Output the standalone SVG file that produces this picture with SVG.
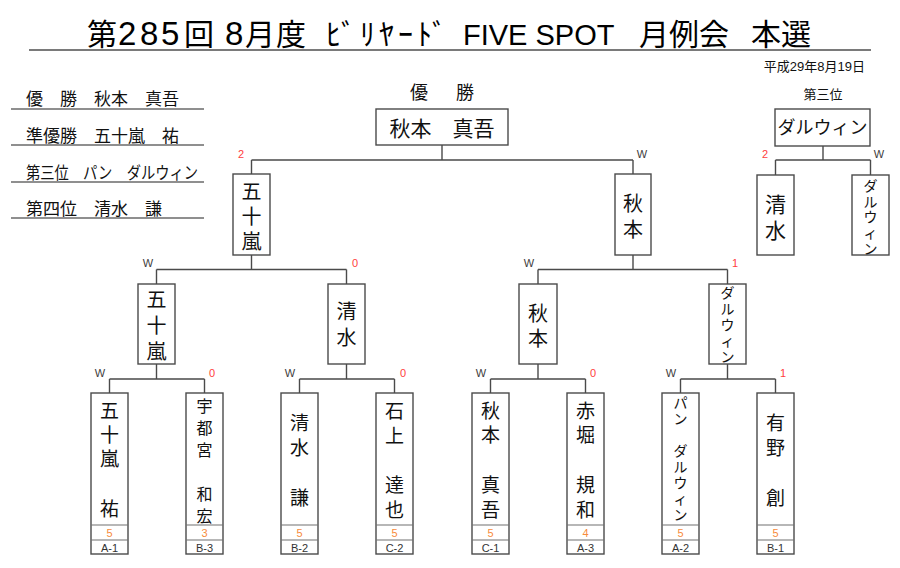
<svg xmlns="http://www.w3.org/2000/svg" width="900" height="568" viewBox="0 0 900 568">
<style>
.ln{stroke:#4a4a4a;stroke-width:1.4;fill:none}
.bx{fill:#fff;stroke:#4a4a4a;stroke-width:1.4}
.sep{stroke:#707070;stroke-width:1.2}
.ul{stroke:#7a7a7a;stroke-width:2.2}
.ll{stroke:#6a6a6a;stroke-width:1.4}
.jp{font-family:"Noto Sans CJK JP",sans-serif;fill:#111}
.ttl{font-family:"Liberation Sans","Noto Sans CJK JP",sans-serif;fill:#000;font-size:30px}
.nm{font-family:"Liberation Sans","Noto Sans CJK JP",sans-serif;fill:#111;text-anchor:middle;dominant-baseline:central}
.lb{font-family:"Liberation Sans",sans-serif;font-size:11px;text-anchor:middle;fill:#3c3c3c}
.red{fill:#ff4040}
.sc{font-family:"Liberation Sans",sans-serif;font-size:11px;text-anchor:middle;fill:#f78b3c}
.cd{font-family:"Liberation Sans",sans-serif;font-size:11px;text-anchor:middle;fill:#333}
</style>
<rect width="900" height="568" fill="#fff"/>

<g id="title">
<text class="ttl" y="45"><tspan x="87">第</tspan><tspan x="118 140 161" font-size="33">285</tspan><tspan x="184">回 </tspan><tspan x="225" font-size="33">8</tspan><tspan x="245 276">月度 </tspan><tspan x="326" letter-spacing="4" style="font-family:'Noto Sans CJK JP',sans-serif">ﾋﾞﾘﾔｰﾄﾞ </tspan><tspan x="463" font-size="29">FIVE SPOT </tspan><tspan x="639">月例会 </tspan><tspan x="751">本選</tspan></text>
<line class="ul" x1="29" y1="50" x2="871" y2="50"/>
<text class="jp" x="865" y="71" font-size="13" text-anchor="end" style="font-family:'Liberation Sans','Noto Sans CJK JP',sans-serif">平成29年8月19日</text>
</g>

<g id="results">
<text class="jp" x="26" y="105" font-size="17">優　勝　秋本　真吾</text>
<line class="ll" x1="11" y1="109" x2="204" y2="109"/>
<text class="jp" x="26" y="142" font-size="17">準優勝　五十嵐　祐</text>
<line class="ll" x1="11" y1="145" x2="204" y2="145"/>
<text class="jp" x="26" y="179" font-size="17" textLength="172" lengthAdjust="spacingAndGlyphs">第三位　パン　ダルウィン</text>
<line class="ll" x1="11" y1="182" x2="204" y2="182"/>
<text class="jp" x="26" y="215" font-size="17">第四位　清水　謙</text>
<line class="ll" x1="11" y1="218" x2="204" y2="218"/>
</g>

<g id="connectors">
<path class="ln" d="M442 145V160M251.5 160H633M251.5 160V174M633 160V174"/>
<path class="ln" d="M251.5 255V269.5M156.5 269.5H346.5M156.5 269.5V284M346.5 269.5V284"/>
<path class="ln" d="M633 255V269.5M538 269.5H727.5M538 269.5V284M727.5 269.5V284"/>
<path class="ln" d="M156.5 364V379M109.5 379H204.5M109.5 379V393M204.5 379V393"/>
<path class="ln" d="M346.5 364V379M299.5 379H394.5M299.5 379V393M394.5 379V393"/>
<path class="ln" d="M538 364V379M490.5 379H585.5M490.5 379V393M585.5 379V393"/>
<path class="ln" d="M727.5 364V379M680.5 379H775.5M680.5 379V393M775.5 379V393"/>
<path class="ln" d="M823 146V160M775.5 160H870.5M775.5 160V175M870.5 160V175"/>
</g>

<g id="labels">
<text class="lb red" x="241" y="158">2</text><text class="lb" x="642" y="158">W</text>
<text class="lb" x="148" y="267">W</text><text class="lb red" x="355" y="267">0</text>
<text class="lb" x="529" y="267">W</text><text class="lb red" x="735" y="267">1</text>
<text class="lb" x="100" y="377">W</text><text class="lb red" x="212" y="377">0</text>
<text class="lb" x="290" y="377">W</text><text class="lb red" x="403" y="377">0</text>
<text class="lb" x="481" y="377">W</text><text class="lb red" x="593" y="377">0</text>
<text class="lb" x="671" y="377">W</text><text class="lb red" x="783" y="377">1</text>
<text class="lb red" x="765" y="158">2</text><text class="lb" x="879" y="158">W</text>
</g>

<g id="champion">
<text class="jp" x="410" y="99" font-size="18" letter-spacing="5">優　勝</text>
<rect class="bx" x="376" y="109" width="132" height="36"/>
<text class="nm" x="442" y="128" font-size="21">秋本　真吾</text>
</g>

<g id="final-left">
<rect class="bx" x="233" y="174" width="37" height="81"/>
<text class="nm" font-size="20"><tspan x="251.5" y="191.5">五</tspan><tspan x="251.5" y="216.5">十</tspan><tspan x="251.5" y="241.5">嵐</tspan></text>
</g>
<g id="final-right">
<rect class="bx" x="615" y="174" width="36" height="81"/>
<text class="nm" font-size="20"><tspan x="633" y="204">秋</tspan><tspan x="633" y="229.5">本</tspan></text>
</g>

<g id="semi-1">
<rect class="bx" x="138" y="284" width="37" height="80"/>
<text class="nm" font-size="20"><tspan x="156.5" y="300">五</tspan><tspan x="156.5" y="326">十</tspan><tspan x="156.5" y="352">嵐</tspan></text>
</g>
<g id="semi-2">
<rect class="bx" x="328" y="284" width="37" height="80"/>
<text class="nm" font-size="20"><tspan x="346.5" y="312">清</tspan><tspan x="346.5" y="338">水</tspan></text>
</g>
<g id="semi-3">
<rect class="bx" x="519" y="284" width="38" height="80"/>
<text class="nm" font-size="20"><tspan x="538" y="314">秋</tspan><tspan x="538" y="339">本</tspan></text>
</g>
<g id="semi-4">
<rect class="bx" x="709" y="284" width="37" height="80"/>
<text class="nm" font-size="14"><tspan x="727.5" y="293">ダ</tspan><tspan x="727.5" y="309">ル</tspan><tspan x="727.5" y="325">ウ</tspan><tspan x="727.5" y="341">ィ</tspan><tspan x="727.5" y="357">ン</tspan></text>
</g>

<g id="third-place">
<text class="jp" x="823" y="99" font-size="13" text-anchor="middle">第三位</text>
<rect class="bx" x="775" y="109" width="95" height="37"/>
<text class="nm" x="822.5" y="128" font-size="18">ダルウィン</text>
</g>
<g id="third-left">
<rect class="bx" x="757" y="175" width="37" height="80"/>
<text class="nm" font-size="21"><tspan x="775.5" y="204">清</tspan><tspan x="775.5" y="230">水</tspan></text>
</g>
<g id="third-right">
<rect class="bx" x="852" y="175" width="37" height="80"/>
<text class="nm" font-size="14"><tspan x="870.5" y="186">ダ</tspan><tspan x="870.5" y="201.7">ル</tspan><tspan x="870.5" y="217.4">ウ</tspan><tspan x="870.5" y="233.1">ィ</tspan><tspan x="870.5" y="248.8">ン</tspan></text>
</g>

<g id="player-1">
<rect class="bx" x="91" y="393" width="37" height="161"/>
<line class="sep" x1="91" y1="525" x2="128" y2="525"/><line class="sep" x1="91" y1="540" x2="128" y2="540"/>
<text class="nm" font-size="19"><tspan x="109.5" y="411">五</tspan><tspan x="109.5" y="435">十</tspan><tspan x="109.5" y="459">嵐</tspan><tspan x="109.5" y="484">　</tspan><tspan x="109.5" y="508.5">祐</tspan></text>
<text class="sc" x="109.5" y="537">5</text><text class="cd" x="109.5" y="552">A-1</text>
</g>
<g id="player-2">
<rect class="bx" x="186" y="393" width="37" height="161"/>
<line class="sep" x1="186" y1="525" x2="223" y2="525"/><line class="sep" x1="186" y1="540" x2="223" y2="540"/>
<text class="nm" font-size="16"><tspan x="204.5" y="406">宇</tspan><tspan x="204.5" y="428">都</tspan><tspan x="204.5" y="450">宮</tspan><tspan x="204.5" y="472">　</tspan><tspan x="204.5" y="494">和</tspan><tspan x="204.5" y="516">宏</tspan></text>
<text class="sc" x="204.5" y="537">3</text><text class="cd" x="204.5" y="552">B-3</text>
</g>
<g id="player-3">
<rect class="bx" x="281" y="393" width="37" height="161"/>
<line class="sep" x1="281" y1="525" x2="318" y2="525"/><line class="sep" x1="281" y1="540" x2="318" y2="540"/>
<text class="nm" font-size="19"><tspan x="299.5" y="423">清</tspan><tspan x="299.5" y="448">水</tspan><tspan x="299.5" y="473">　</tspan><tspan x="299.5" y="498">謙</tspan></text>
<text class="sc" x="299.5" y="537">5</text><text class="cd" x="299.5" y="552">B-2</text>
</g>
<g id="player-4">
<rect class="bx" x="376" y="393" width="37" height="161"/>
<line class="sep" x1="376" y1="525" x2="413" y2="525"/><line class="sep" x1="376" y1="540" x2="413" y2="540"/>
<text class="nm" font-size="19"><tspan x="394.5" y="411">石</tspan><tspan x="394.5" y="436">上</tspan><tspan x="394.5" y="461">　</tspan><tspan x="394.5" y="485">達</tspan><tspan x="394.5" y="510">也</tspan></text>
<text class="sc" x="394.5" y="537">5</text><text class="cd" x="394.5" y="552">C-2</text>
</g>
<g id="player-5">
<rect class="bx" x="472" y="393" width="37" height="161"/>
<line class="sep" x1="472" y1="525" x2="509" y2="525"/><line class="sep" x1="472" y1="540" x2="509" y2="540"/>
<text class="nm" font-size="19"><tspan x="490.5" y="411">秋</tspan><tspan x="490.5" y="435">本</tspan><tspan x="490.5" y="460">　</tspan><tspan x="490.5" y="485">真</tspan><tspan x="490.5" y="510">吾</tspan></text>
<text class="sc" x="490.5" y="537">5</text><text class="cd" x="490.5" y="552">C-1</text>
</g>
<g id="player-6">
<rect class="bx" x="567" y="393" width="37" height="161"/>
<line class="sep" x1="567" y1="525" x2="604" y2="525"/><line class="sep" x1="567" y1="540" x2="604" y2="540"/>
<text class="nm" font-size="19"><tspan x="585.5" y="411">赤</tspan><tspan x="585.5" y="435">堀</tspan><tspan x="585.5" y="460">　</tspan><tspan x="585.5" y="485">規</tspan><tspan x="585.5" y="510">和</tspan></text>
<text class="sc" x="585.5" y="537">4</text><text class="cd" x="585.5" y="552">A-3</text>
</g>
<g id="player-7">
<rect class="bx" x="662" y="393" width="37" height="161"/>
<line class="sep" x1="662" y1="525" x2="699" y2="525"/><line class="sep" x1="662" y1="540" x2="699" y2="540"/>
<text class="nm" font-size="14"><tspan x="680.5" y="403">パ</tspan><tspan x="680.5" y="419">ン</tspan><tspan x="680.5" y="435">　</tspan><tspan x="680.5" y="451">ダ</tspan><tspan x="680.5" y="467">ル</tspan><tspan x="680.5" y="483">ウ</tspan><tspan x="680.5" y="499">ィ</tspan><tspan x="680.5" y="515">ン</tspan></text>
<text class="sc" x="680.5" y="537">5</text><text class="cd" x="680.5" y="552">A-2</text>
</g>
<g id="player-8">
<rect class="bx" x="757" y="393" width="37" height="161"/>
<line class="sep" x1="757" y1="525" x2="794" y2="525"/><line class="sep" x1="757" y1="540" x2="794" y2="540"/>
<text class="nm" font-size="19"><tspan x="775.5" y="423">有</tspan><tspan x="775.5" y="448">野</tspan><tspan x="775.5" y="473">　</tspan><tspan x="775.5" y="498">創</tspan></text>
<text class="sc" x="775.5" y="537">5</text><text class="cd" x="775.5" y="552">B-1</text>
</g>
</svg>
